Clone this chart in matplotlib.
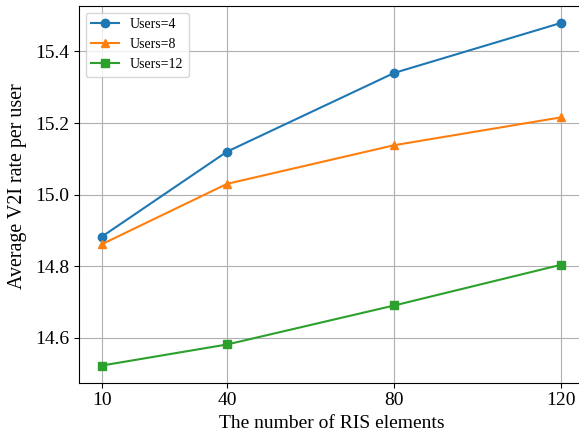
import matplotlib
matplotlib.use('Agg')
import matplotlib.pyplot as plt

plt.rcParams['font.family'] = ['Liberation Serif', 'DejaVu Serif']
plt.rcParams['mathtext.fontset'] = 'stix'

ris = [10, 40, 80, 120]
users4 = [14.882, 15.12, 15.34, 15.48]
users8 = [14.861, 15.03, 15.138, 15.216]
users12 = [14.522, 14.581, 14.69, 14.804]

fig = plt.figure(figsize=(5.79, 4.36), dpi=100)
# axes runs a little past the right edge, as in the original crop
ax = fig.add_axes([0.1359, 0.1222, 0.8733, 0.8647])

ax.plot(ris, users4, marker='o', color='#1f77b4', label='Users=4')
ax.plot(ris, users8, marker='^', color='#ff7f0e', label='Users=8')
ax.plot(ris, users12, marker='s', color='#2ca02c', label='Users=12')

ax.set_xticks(ris)
ax.set_yticks([14.6, 14.8, 15.0, 15.2, 15.4])
ax.tick_params(labelsize=14)
ax.set_xlabel('The number of RIS elements', fontsize=14)
ax.set_ylabel('Average V2I rate per user', fontsize=14.4)
ax.yaxis.set_label_coords(-0.103, 0.522)
ax.grid(True)
ax.legend(loc='upper left', fontsize=10)

fig.savefig('out.png', dpi=100)
